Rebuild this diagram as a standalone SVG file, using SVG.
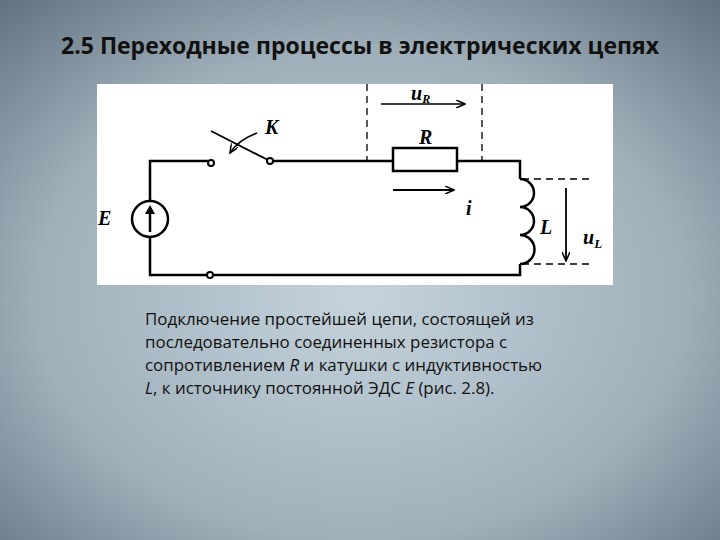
<svg xmlns="http://www.w3.org/2000/svg" width="720" height="540" viewBox="0 0 720 540">
<defs>
<radialGradient id="bg" cx="50%" cy="55%" r="75%">
<stop offset="0" stop-color="#c4d3dc"/>
<stop offset="0.6" stop-color="#9fb0bb"/>
<stop offset="1" stop-color="#5f717d"/>
</radialGradient>
<marker id="ah" markerWidth="10" markerHeight="8" refX="9" refY="4" orient="auto" markerUnits="userSpaceOnUse">
<path d="M0,0 L9,4 L0,8" fill="none" stroke="#000" stroke-width="1.5"/>
</marker>
<style>
.w{fill:none;stroke:#000;stroke-width:2.5}
.d{fill:none;stroke:#000;stroke-width:1.3;stroke-dasharray:7,5}
.t{font-family:"Liberation Serif",serif;font-style:italic;font-weight:bold;font-size:20px}
.p{font-family:"Open Sans","Noto Sans",sans-serif;font-size:16.9px;fill:#111}
</style>
</defs>
<rect width="720" height="540" fill="url(#bg)"/>
<text x="360" y="54" text-anchor="middle" font-family="Open Sans, Noto Sans, sans-serif" font-weight="bold" font-size="23" fill="#111">2.5 Переходные процессы в электрических цепях</text>
<rect x="97" y="84" width="516" height="201" fill="#fff"/>
<g id="connectors">
<path class="w" d="M208,161 H150 V201 M150,237 V275 H207 M213,275 H520 V264 M520,179 V161 H457 M393,161 H272"/>
<path d="M211,131 L268,160" stroke="#000" stroke-width="1.8" fill="none"/>
<path d="M257,133 Q238,140 230,153" stroke="#000" stroke-width="1.8" fill="none" marker-end="url(#ah)"/>
<path class="d" d="M367,84 V161 M482,84 V161 M522,179 H592 M522,264 H590"/>
<path d="M381,104 H465" stroke="#000" stroke-width="1.6" fill="none" marker-end="url(#ah)"/>
<path d="M393,190 H454" stroke="#000" stroke-width="2" fill="none" marker-end="url(#ah)"/>
<path d="M566,188 V261" stroke="#000" stroke-width="1.8" fill="none" marker-end="url(#ah)"/>
</g>
<g id="switch">
<circle cx="211" cy="163" r="3" fill="#fff" stroke="#000" stroke-width="2"/>
<circle cx="270" cy="161" r="3" fill="#fff" stroke="#000" stroke-width="2"/>
<circle cx="210" cy="275" r="3" fill="#fff" stroke="#000" stroke-width="2"/>
<text class="t" x="265" y="134">K</text>
</g>
<g id="source">
<circle cx="150" cy="219" r="18" fill="#fff" stroke="#000" stroke-width="2.5"/>
<path d="M150,232 V208" stroke="#000" stroke-width="2.5"/>
<path d="M145,214 L150,205 L155,214 Z" fill="#000"/>
<text class="t" x="98" y="225">E</text>
</g>
<g id="resistor">
<rect x="393" y="148" width="64" height="23" fill="#fff" stroke="#000" stroke-width="2.5"/>
<text class="t" x="419" y="144">R</text>
<text class="t" x="411" y="100">u<tspan font-size="12" dy="3">R</tspan></text>
<text class="t" x="466" y="215">i</text>
</g>
<g id="inductor">
<path class="w" d="M520,179 A14,14 0 0 1 520,207 A14,14 0 0 1 520,235 A14,14 0 0 1 520,264"/>
<text class="t" x="540" y="234">L</text>
<text class="t" x="583" y="244">u<tspan font-size="13" dy="4">L</tspan></text>
</g>
<g id="caption">
<text class="p" x="145" y="325">Подключение простейшей цепи, состоящей из</text>
<text class="p" x="145" y="348">последовательно соединенных резистора с</text>
<text class="p" x="145" y="371">сопротивлением <tspan font-style="italic">R</tspan> и катушки с индуктивностью</text>
<text class="p" x="145" y="394"><tspan font-style="italic">L</tspan>, к источнику постоянной ЭДС <tspan font-style="italic">E</tspan> (рис. 2.8).</text>
</g>
</svg>
